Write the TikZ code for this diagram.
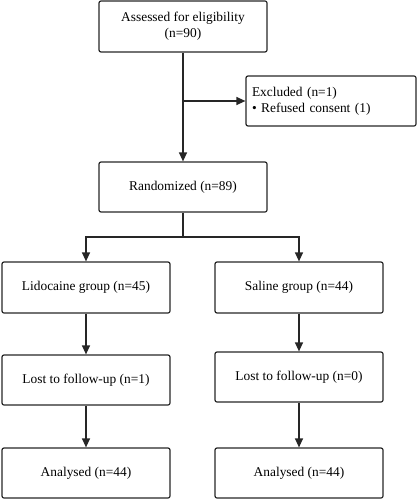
\documentclass[tikz,border=0pt]{standalone}
\usepackage{fontspec}
\setmainfont{Liberation Serif}
\usetikzlibrary{arrows.meta}
\begin{document}
\begin{tikzpicture}[x=1pt,y=-1pt,
  box/.style={draw=black!85,line width=1.2pt,rounded corners=2pt,font=\fontsize{13.4}{16}\selectfont,align=center},
  arr/.style={draw=black!85,line width=1.2pt,-{Triangle[length=9pt,width=8pt]}},
  ln/.style={draw=black!85,line width=1.2pt}]
\useasboundingbox (0,0) rectangle (418,500);
\node[box,minimum width=168pt,minimum height=51pt] (assess) at (183,26.5) {Assessed for eligibility\\(n=90)};
\node[box,minimum width=170pt,minimum height=50pt,align=left,text width=158pt] (excl) at (331,101) {Excluded (n=1)\\\textbullet{} Refused consent (1)};
\node[box,minimum width=168pt,minimum height=50pt] (rand) at (183,187) {Randomized (n=89)};
\node[box,minimum width=168pt,minimum height=51pt] (lido) at (86,287.5) {Lidocaine group (n=45)};
\node[box,minimum width=168pt,minimum height=51pt] (sal) at (299,287.5) {Saline group (n=44)};
\node[box,minimum width=168pt,minimum height=50pt] (lostl) at (86,380) {Lost to follow-up (n=1)};
\node[box,minimum width=168pt,minimum height=50pt] (lostr) at (299,377) {Lost to follow-up (n=0)};
\node[box,minimum width=168pt,minimum height=50pt] (anl) at (86,473) {Analysed (n=44)};
\node[box,minimum width=168pt,minimum height=50pt] (anr) at (299,473) {Analysed (n=44)};
\coordinate (j1) at (assess.south |- excl.west);
\coordinate (j2) at (183,237);
\draw[arr] (assess.south) -- (rand.north);
\draw[arr] (j1) -- (excl.west);
\draw[ln] (rand.south) -- (j2);
\draw[arr] (j2) -| (lido.north);
\draw[arr] (j2) -| (sal.north);
\draw[arr] (lido.south) -- (lostl.north);
\draw[arr] (sal.south) -- (lostr.north);
\draw[arr] (lostl.south) -- (anl.north);
\draw[arr] (lostr.south) -- (anr.north);
\end{tikzpicture}
\end{document}
